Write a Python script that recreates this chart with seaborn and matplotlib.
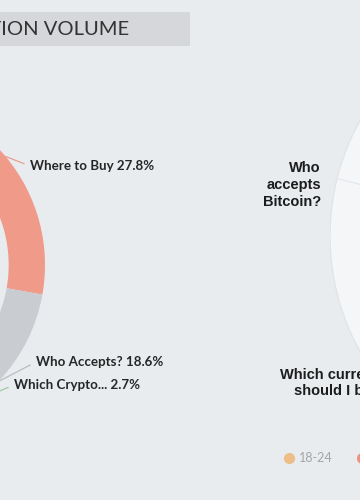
import matplotlib
matplotlib.use("Agg")
import matplotlib.pyplot as plt
import numpy as np
import seaborn as sns
from matplotlib.lines import Line2D
from matplotlib.patches import Circle, Rectangle

sns.set_theme(style="white")
plt.rcParams["font.family"] = ["Lato", "DejaVu Sans"]

W, H = 360, 500
BG = "#E9ECEF"

# --- data -----------------------------------------------------------------
title = "QUESTION VOLUME"

# donut: share of questions per topic (only these slices are in view)
topics = ["Where to Buy", "Who Accepts?", "Which Crypto..."]
shares = [27.8, 18.6, 2.7]
topic_colors = ["#F09A8A", "#C9CDD1", "#A3D2AA"]
leader_colors = ["#E8A08F", "#B9BDC1", "#9CCBA3"]

# radar: indicator names in view
radar_names = ["Who\naccepts\nBitcoin?", "Which currency\nshould I buy?"]
n_indicators = 8

# legend: age groups
age_groups = ["18-24", "25-34"]
age_colors = ["#EDBE87", "#F0917F"]


def px(x, y):
    """pixel (from top-left) -> figure pixels (from bottom-left)"""
    return x, H - y


fig = plt.figure(figsize=(W / 100, H / 100), dpi=100, facecolor=BG)

# ---------------------------------------------------------------------------
# Title bar
# ---------------------------------------------------------------------------
fig.patches.append(
    Rectangle((0, (H - 46) / H), 190 / W, 34 / H, transform=fig.transFigure,
              facecolor="#D6D7DB", edgecolor="none", zorder=0)
)
fig.text(129 / W, 1 - 29 / H, title, ha="right", va="center",
         fontsize=14.5, color="#333333")

# ---------------------------------------------------------------------------
# Donut (centre sits left of the visible area)
# ---------------------------------------------------------------------------
cx, cy, R = -124, 265, 169
pie_ax = fig.add_axes([(cx - R) / W, (H - cy - R) / H, 2 * R / W, 2 * R / H])
wedges, _ = pie_ax.pie(
    np.array(shares) / 100, normalize=False, startangle=90, counterclock=False,
    colors=topic_colors, radius=1,
    wedgeprops=dict(width=0.215, edgecolor="none"),
)
pie_ax.set_xlim(-1, 1)
pie_ax.set_ylim(-1, 1)
pie_ax.axis("off")

label_pos = [(30, 166), (36, 362), (14, 385)]
for w, name, val, pos, lc in zip(wedges, topics, shares, label_pos, leader_colors):
    mid = np.deg2rad((w.theta1 + w.theta2) / 2)
    pie_ax.annotate(
        f"{name} {val}%", xy=(np.cos(mid), np.sin(mid)), xycoords="data",
        xytext=px(*pos), textcoords="figure pixels",
        ha="left", va="center", fontsize=9.6, fontweight="bold", color="#262626",
        arrowprops=dict(arrowstyle="-", color=lc, lw=0.9, shrinkA=2, shrinkB=0,
                        relpos=(0, 0.5)),
        annotation_clip=False,
    )

# ---------------------------------------------------------------------------
# Radar (centre sits right of the visible area)
# ---------------------------------------------------------------------------
rx, ry, RR = 567, 236, 237
radar_ax = fig.add_axes([(rx - RR) / W, (H - ry - RR) / H, 2 * RR / W, 2 * RR / H])
radar_ax.set_xlim(-1, 1)
radar_ax.set_ylim(-1, 1)
radar_ax.set_aspect("equal")
radar_ax.axis("off")
radar_ax.add_patch(Circle((0, 0), 1, facecolor="#F4F6F8", edgecolor="#E0E3E7", lw=0.9))
spokes = np.deg2rad(166 + 45 * np.arange(n_indicators))
for a in spokes:
    radar_ax.plot([0, np.cos(a)], [0, np.sin(a)], color="#E3E6EA", lw=0.8)

name_pos = [(168.3, 1.06), (219.6, 0.973)]
for name, (th, r) in zip(radar_names, name_pos):
    t = np.deg2rad(th)
    radar_ax.text(r * np.cos(t), r * np.sin(t), name, ha="right", va="center",
                  fontsize=10.5, fontweight="bold", color="#1C1C1C",
                  linespacing=1.25, family=["Liberation Sans", "DejaVu Sans"],
                  clip_on=False)

# ---------------------------------------------------------------------------
# Legend
# ---------------------------------------------------------------------------
handles = [Line2D([], [], marker="o", ls="", color=c, markersize=7) for c in age_colors]
fig.legend(
    handles, age_groups, loc="center left", bbox_to_anchor=(283 / W, 1 - 458 / H),
    ncol=len(age_groups), frameon=False, handlelength=1, handletextpad=0.25,
    columnspacing=1.9, borderpad=0, borderaxespad=0, fontsize=9,
    labelcolor="#A5A5A5",
)

fig.savefig("out.png", dpi=100, facecolor=BG)
